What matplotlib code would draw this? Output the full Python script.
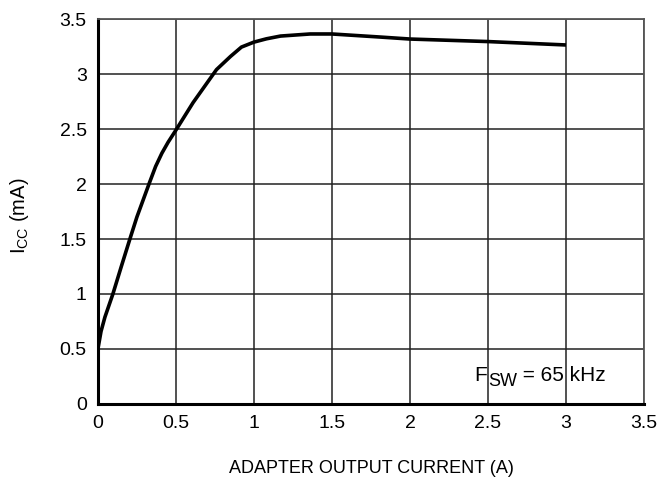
import matplotlib
matplotlib.use("Agg")
import matplotlib.pyplot as plt
from matplotlib.ticker import FixedLocator

plt.rcParams['font.family'] = ['Liberation Sans', 'DejaVu Sans']
plt.rcParams['mathtext.fontset'] = 'custom'
plt.rcParams['mathtext.rm'] = 'Liberation Sans'

current_a = [0.0, 0.02, 0.045, 0.096, 0.15, 0.205, 0.25, 0.29, 0.33, 0.37, 0.41, 0.45, 0.5,
             0.61, 0.76, 0.85, 0.92, 1.0, 1.08, 1.17, 1.36, 1.5, 1.81, 2.0, 2.5, 3.0]
icc_ma = [0.5, 0.66, 0.79, 1.0, 1.25, 1.5, 1.7, 1.855, 2.01, 2.16, 2.28, 2.38, 2.49,
          2.74, 3.04, 3.16, 3.245, 3.29, 3.32, 3.345, 3.364, 3.364, 3.336, 3.318, 3.295, 3.264]

x_ticks = [0, 0.5, 1, 1.5, 2, 2.5, 3, 3.5]
x_tick_labels = ['0', '0.5', '1', '1.5', '2', '2.5', '3', '3.5']
y_ticks = [0, 0.5, 1, 1.5, 2, 2.5, 3, 3.5]
y_tick_labels = ['0', '0.5', '1', '1.5', '2', '2.5', '3', '3.5']

fig = plt.figure(figsize=(6.66, 4.79), dpi=100)
ax = fig.add_axes([0.147, 0.1566, 0.820, 0.8037])

ax.plot(current_a, icc_ma, color='black', linewidth=2.6, solid_joinstyle='round',
        solid_capstyle='butt', zorder=3)

ax.set_xlim(0, 3.5)
ax.set_ylim(0, 3.5)
ax.xaxis.set_major_locator(FixedLocator(x_ticks))
ax.yaxis.set_major_locator(FixedLocator(y_ticks))
ax.set_xticklabels(x_tick_labels)
ax.set_yticklabels(y_tick_labels)
ax.tick_params(axis='both', length=0, labelsize=14, colors='black')
ax.tick_params(axis='x', pad=8)
ax.tick_params(axis='y', pad=8)

ax.grid(True, color='#222222', linewidth=1.1)
ax.set_axisbelow(True)

for side in ['top', 'right']:
    ax.spines[side].set_color('#555555')
    ax.spines[side].set_linewidth(1.3)
for side in ['bottom', 'left']:
    ax.spines[side].set_color('black')
    ax.spines[side].set_linewidth(2.2)

ax.set_xlabel('ADAPTER OUTPUT CURRENT (A)', fontsize=13)
ax.xaxis.set_label_coords(0.501, -0.145)
ax.set_ylabel(r'I$_{\mathregular{CC}}$ (mA)', fontsize=14.5)
ax.yaxis.set_label_coords(-0.123, 0.49)

t1 = ax.text(2.415, 0.21, 'F', fontsize=15, ha='left', va='baseline', zorder=4)
t2 = ax.annotate('SW', xy=(1, 0), xycoords=t1, xytext=(0.5, -3.5), textcoords='offset points',
                 fontsize=13, ha='left', va='bottom', zorder=4)
ax.annotate(' = 65 kHz', xy=(1, 0), xycoords=t2, xytext=(0, 3.5), textcoords='offset points',
            fontsize=15, ha='left', va='bottom', zorder=4)

fig.savefig('out.png', dpi=100)
